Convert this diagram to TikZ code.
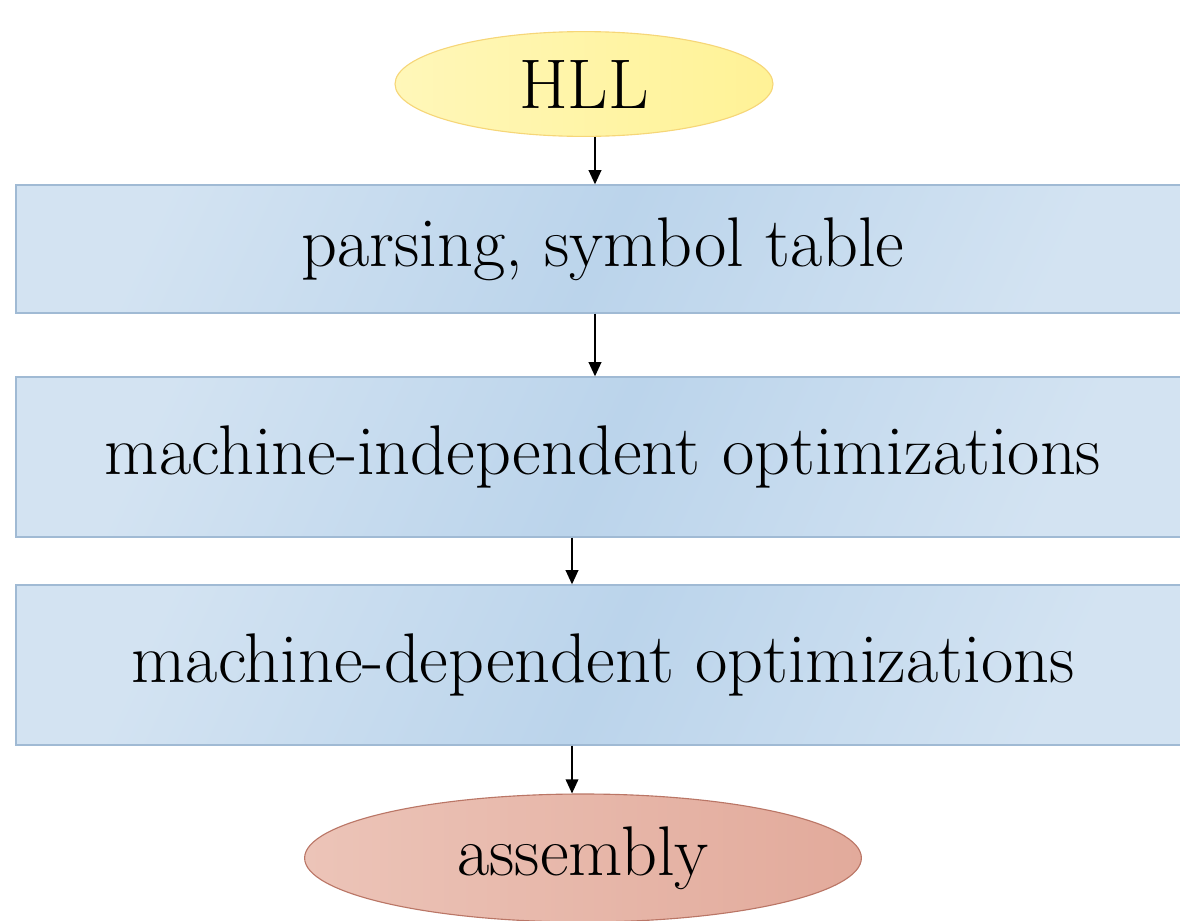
\documentclass[tikz,border=0pt]{standalone}
\usepackage{xcolor}
\usepackage{tikz}
\usetikzlibrary{shapes,arrows.meta,positioning}

\definecolor{boxlight}{RGB}{211,227,242}
\definecolor{boxdark}{RGB}{187,212,235}
\definecolor{boxline}{RGB}{160,186,212}
\definecolor{hllfill}{RGB}{255,242,150}
\definecolor{hlllight}{RGB}{255,247,185}
\definecolor{hllline}{RGB}{246,214,120}
\definecolor{asmfill}{RGB}{226,170,155}
\definecolor{asmlight}{RGB}{236,196,184}
\definecolor{asmline}{RGB}{186,118,102}

\begin{document}
\begin{tikzpicture}[
    stage/.style={rectangle, draw=boxline, line width=1pt,
        top color=boxlight, bottom color=boxlight, middle color=boxdark, shading angle=65,
        minimum width=29.35cm, minimum height=4cm, text centered, font=\fontsize{50}{54}\selectfont},
    srcnode/.style={ellipse, draw=hllline, line width=0.8pt, left color=hlllight, right color=hllfill,
        inner sep=0pt, minimum width=9.45cm, minimum height=2.62cm, font=\fontsize{50}{54}\selectfont},
    outnode/.style={ellipse, draw=asmline, line width=0.8pt, left color=asmlight, right color=asmfill,
        inner sep=0pt, minimum width=13.92cm, minimum height=3.2cm, font=\fontsize{50}{54}\selectfont},
    arrow/.style={-{Triangle[length=10pt,width=9pt]}, line width=1pt, color=black}
]
    \useasboundingbox (0,0) rectangle (29.5,-23);

    % Source and passes
    \node[srcnode] (hll) at (14.6, -2.1) {HLL};
    \node[stage, minimum height=3.2cm] (parse) at (15.075, -6.225) {parsing, symbol table};
    \node[stage] (indep) at (15.075, -11.425) {machine-independent optimizations};
    \node[stage] (dep) at (15.075, -16.625) {machine-dependent optimizations};
    \node[outnode] (asm) at (14.575, -21.45) {assembly};

    % Flow
    \draw[arrow] ([xshift=-0.2cm]parse.north |- hll.south) -- ([xshift=-0.2cm]parse.north);
    \draw[arrow] ([xshift=-0.2cm]parse.south) -- ([xshift=-0.2cm]parse.south |- indep.north);
    \draw[arrow] ([xshift=-0.775cm]indep.south) -- ([xshift=-0.775cm]indep.south |- dep.north);
    \draw[arrow] ([xshift=-0.775cm]dep.south) -- ([xshift=-0.775cm]dep.south |- asm.north);
\end{tikzpicture}
\end{document}
